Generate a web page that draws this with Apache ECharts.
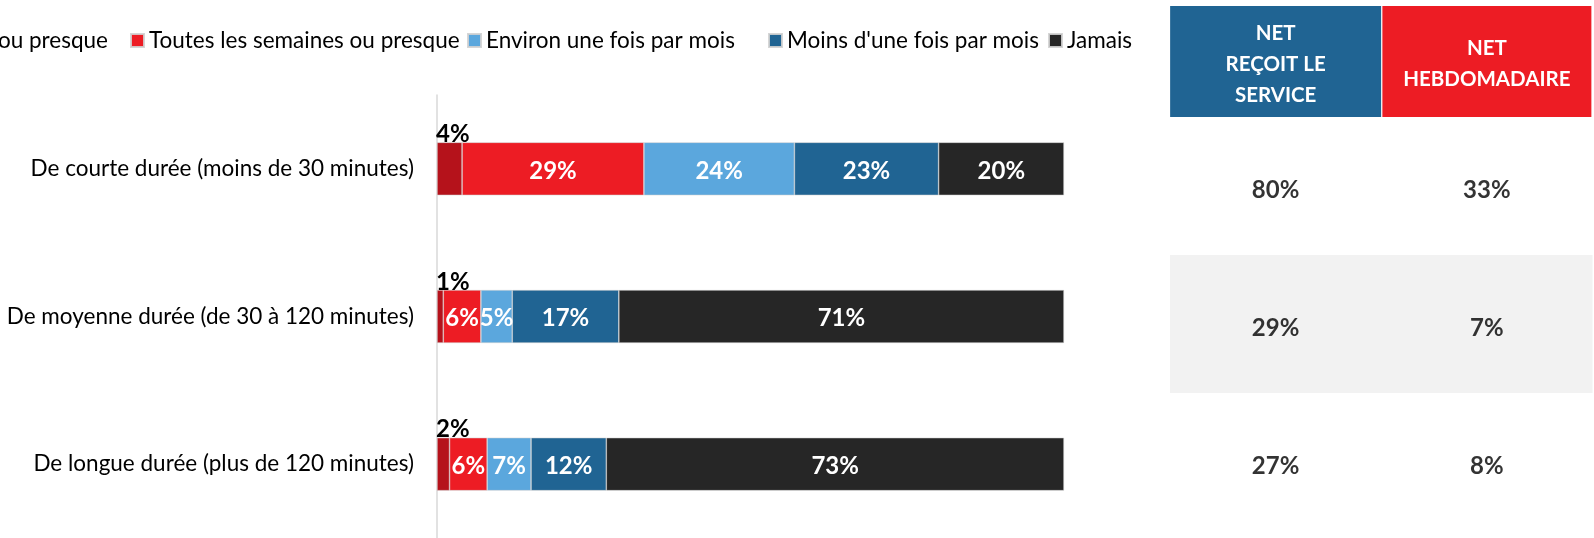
<!DOCTYPE html>
<html>
<head>
<meta charset="utf-8">
<script src="https://cdn.jsdelivr.net/npm/echarts@6/dist/echarts.min.js"></script>
<style>
html,body{margin:0;padding:0;background:#fff;}
#chart{width:1594px;height:538px;}
</style>
</head>
<body>
<div id="chart"></div>
<script>
const categories = [
  'De courte durée (moins de 30 minutes)',
  'De moyenne durée (de 30 à 120 minutes)',
  'De longue durée (plus de 120 minutes)'
];
const seriesNames = [
  'Tous les jours ou presque',
  'Toutes les semaines ou presque',
  'Environ une fois par mois',
  "Moins d'une fois par mois",
  'Jamais'
];
const tousLesJours = [4, 1, 2];
const toutesLesSemaines = [29, 6, 6];
const environUneFois = [24, 5, 7];
const moinsDuneFois = [23, 17, 12];
const jamais = [20, 71, 73];
const tableHeaders = ['NET\nREÇOIT LE\nSERVICE', 'NET\nHEBDOMADAIRE'];
const netRecoit = [80, 29, 27];
const netHebdo = [33, 7, 8];

const seriesValues = [tousLesJours, toutesLesSemaines, environUneFois, moinsDuneFois, jamais];
const colors = ['#B5121B', '#ED1C24', '#5BA7DD', '#206493', '#262626'];
const FONT = 'Lato';

const chart = echarts.init(document.getElementById('chart'));

const barSeries = seriesValues.map((vals, i) => ({
  name: seriesNames[i],
  type: 'bar',
  stack: 'total',
  xAxisIndex: 0,
  yAxisIndex: 0,
  barWidth: 53,
  data: vals,
  itemStyle: { color: colors[i], borderColor: 'rgba(210,210,210,0.9)', borderWidth: 0.6 },
  label: i === 0 ? {
    show: true,
    position: [-1, 4],
    align: 'left',
    verticalAlign: 'bottom',
    formatter: p => p.value + '%',
    color: '#000',
    fontFamily: FONT,
    fontWeight: 'bold',
    fontSize: 24
  } : {
    show: true,
    position: 'inside',
    offset: [0, 2],
    formatter: p => p.value + '%',
    color: '#fff',
    fontFamily: FONT,
    fontWeight: 'bold',
    fontSize: 24
  }
}));

const tableData = [];
categories.forEach((c, r) => {
  tableData.push([0, r, netRecoit[r]]);
  tableData.push([1, r, netHebdo[r]]);
});

const legendLefts = [null, 130, 467, 768, 1048];
const legends = seriesNames.map((n, i) => {
  const l = {
    data: [n],
    top: 29,
    padding: 0,
    icon: 'rect',
    itemWidth: 13,
    itemHeight: 13,
    itemGap: 5,
    textStyle: { fontFamily: FONT, fontSize: 22.5, color: '#000' }
  };
  if (i === 0) l.right = 1486; else l.left = legendLefts[i];
  return l;
});

const option = {
  animation: false,
  backgroundColor: '#fff',
  legend: legends,
  grid: [
    { left: 437, width: 627, top: 95, height: 447, containLabel: false },
    { left: 1170, right: 0, top: 117, height: 414, containLabel: false }
  ],
  xAxis: [
    { type: 'value', gridIndex: 0, min: 0, max: 100, show: false },
    {
      type: 'category', gridIndex: 1, position: 'top',
      data: [
        { value: tableHeaders[0], textStyle: { backgroundColor: '#206493', width: 211, padding: [12, 0, 6, 0] } },
        { value: tableHeaders[1], textStyle: { backgroundColor: '#ED1C24', width: 209, padding: [27, 0, 22, 0] } }
      ],
      axisLine: { show: false }, axisTick: { show: false }, splitLine: { show: false },
      axisLabel: {
        interval: 0, margin: 0, color: '#fff', fontFamily: FONT, fontWeight: 'bold',
        fontSize: 20.5, lineHeight: 31, align: 'center'
      }
    }
  ],
  yAxis: [
    {
      type: 'category', gridIndex: 0, inverse: true, data: categories,
      axisLine: { show: true, lineStyle: { color: '#D9D9D9', width: 1.5 } },
      axisTick: { show: false },
      axisLabel: { margin: 23, color: '#000', fontFamily: FONT, fontSize: 22.5 }
    },
    {
      type: 'category', gridIndex: 1, inverse: true, data: categories,
      axisLine: { show: false }, axisTick: { show: false }, axisLabel: { show: false },
      splitLine: { show: false },
      splitArea: { show: true, areaStyle: { color: ['rgba(255,255,255,0)', '#F2F2F2'] } }
    }
  ],
  series: barSeries.concat([{
    type: 'scatter',
    xAxisIndex: 1,
    yAxisIndex: 1,
    symbolSize: 1,
    itemStyle: { color: 'rgba(0,0,0,0)' },
    data: tableData,
    label: {
      show: true, position: 'inside', offset: [0, 4],
      formatter: p => p.value[2] + '%',
      color: '#000', fontFamily: FONT, fontWeight: 'bold', fontSize: 24
    }
  }])
};
chart.setOption(option);
</script>
</body>
</html>
